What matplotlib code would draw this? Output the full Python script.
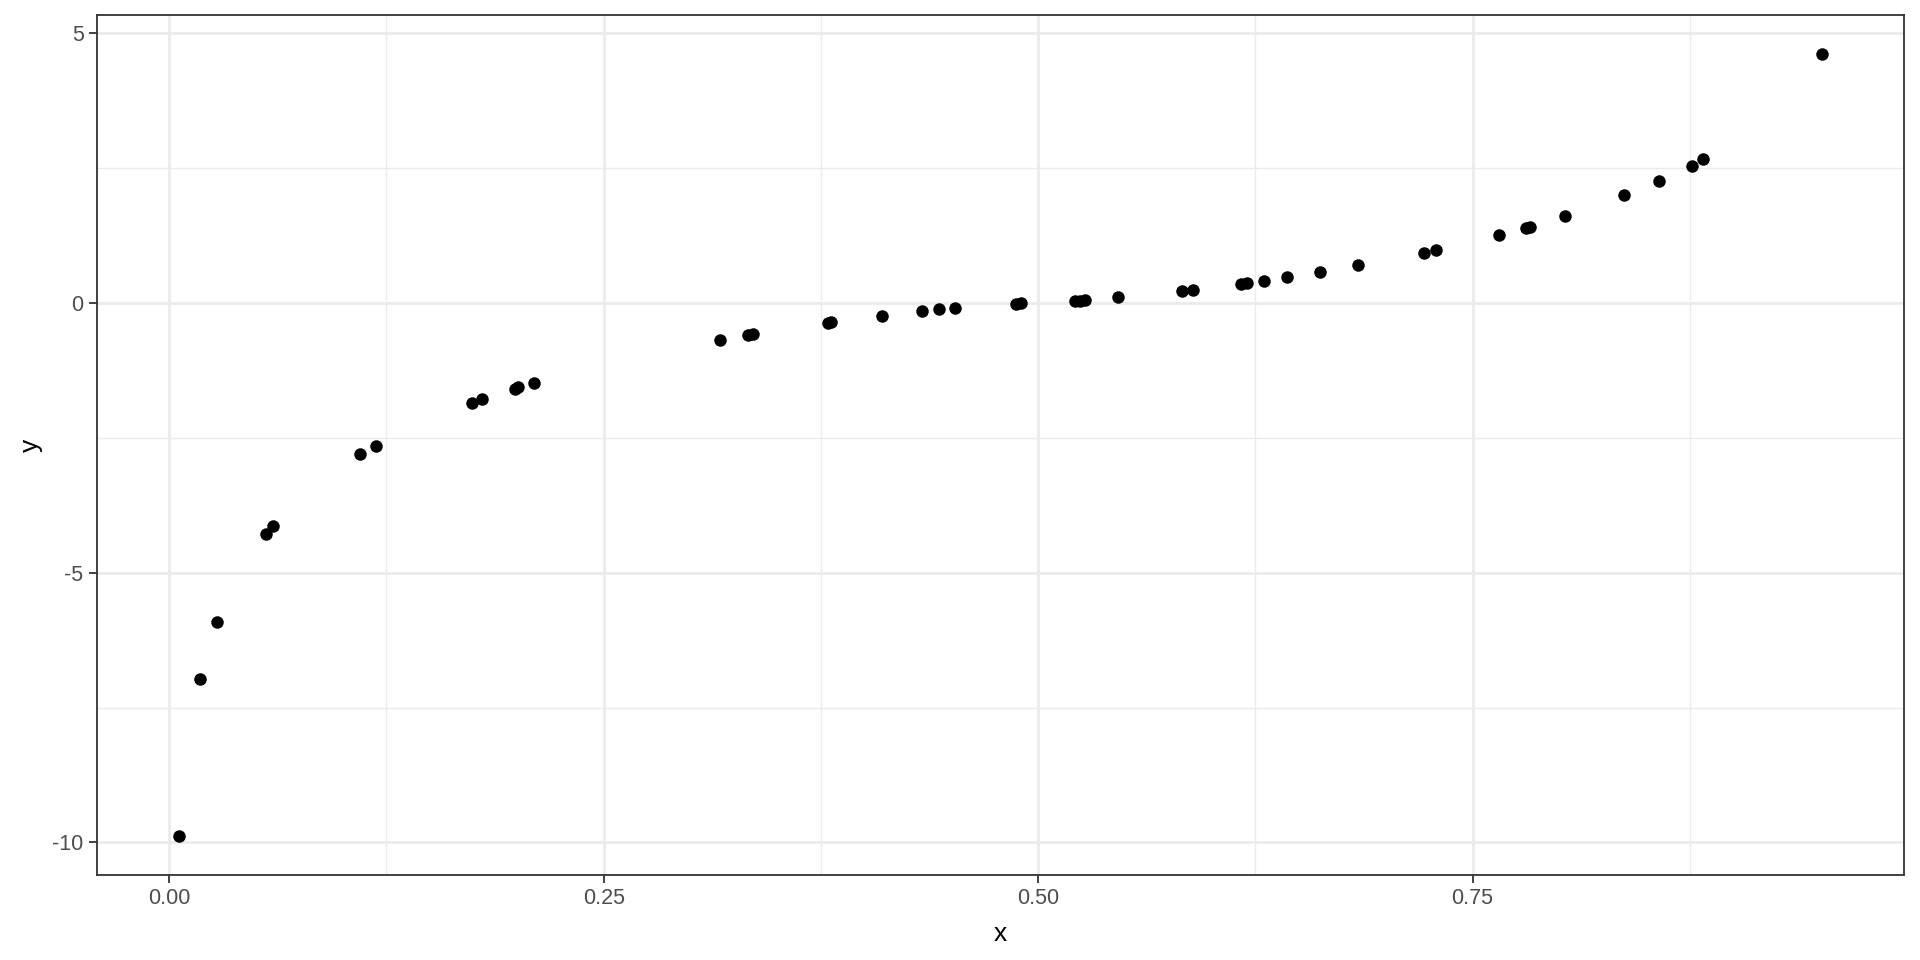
import matplotlib
matplotlib.use('Agg')
import matplotlib.pyplot as plt
import numpy as np

# data
x = [0.0056, 0.0178, 0.0274, 0.0556, 0.0598, 0.110, 0.119, 0.174, 0.180, 0.1987,
     0.2006, 0.210, 0.317, 0.333, 0.336, 0.379, 0.381, 0.410, 0.433, 0.443,
     0.452, 0.487, 0.490, 0.521, 0.524, 0.527, 0.546, 0.583, 0.589, 0.617,
     0.620, 0.630, 0.643, 0.662, 0.684, 0.722, 0.729, 0.765, 0.781, 0.783,
     0.803, 0.837, 0.857, 0.876, 0.8825, 0.951]
y = [-9.88, -6.97, -5.92, -4.29, -4.13, -2.80, -2.65, -1.86, -1.79, -1.60,
     -1.57, -1.49, -0.69, -0.59, -0.58, -0.37, -0.36, -0.24, -0.16, -0.12,
     -0.105, -0.02, -0.01, 0.04, 0.04, 0.05, 0.10, 0.22, 0.24, 0.34,
     0.36, 0.41, 0.47, 0.57, 0.69, 0.93, 0.98, 1.26, 1.39, 1.41,
     1.60, 1.99, 2.25, 2.54, 2.67, 4.60]

x_ticks = [0.0, 0.25, 0.5, 0.75]
x_labels = ['0.00', '0.25', '0.50', '0.75']
x_minor = [0.125, 0.375, 0.625, 0.875]
y_ticks = [-10, -5, 0, 5]
y_labels = ['-10', '-5', '0', '5']
y_minor = [-7.5, -2.5, 2.5]

plt.rcParams['font.family'] = ['Liberation Sans', 'DejaVu Sans']

fig = plt.figure(figsize=(19.2, 9.6), dpi=100)
ax = fig.add_axes([0.0504, 0.0885, 0.9413, 0.8955])

# ggplot-like expansion of 5%
def expand(v):
    lo, hi = min(v), max(v)
    d = (hi - lo) * 0.05
    return lo - d, hi + d

ax.set_xlim(*expand(x))
ax.set_ylim(*expand(y))

# grid
ax.set_xticks(x_ticks)
ax.set_xticklabels(x_labels)
ax.set_yticks(y_ticks)
ax.set_yticklabels(y_labels)
ax.set_xticks(x_minor, minor=True)
ax.set_yticks(y_minor, minor=True)
ax.grid(which='major', color='#EBEBEB', linewidth=2.0)
ax.grid(which='minor', color='#EBEBEB', linewidth=1.0)
ax.set_axisbelow(True)

ax.plot(x, y, 'o', color='black', markersize=9, markeredgewidth=0, zorder=3)

for s in ax.spines.values():
    s.set_color('#333333')
    s.set_linewidth(1.3)

ax.tick_params(which='major', length=5.5, width=1.3, color='#333333',
               labelcolor='#4D4D4D', labelsize=15.5, pad=4)
ax.tick_params(which='minor', length=0)

ax.set_xlabel('x', fontsize=19, color='black', labelpad=9)
ax.set_ylabel('y', fontsize=19, color='black', labelpad=7)

fig.savefig('out.png', dpi=100)
